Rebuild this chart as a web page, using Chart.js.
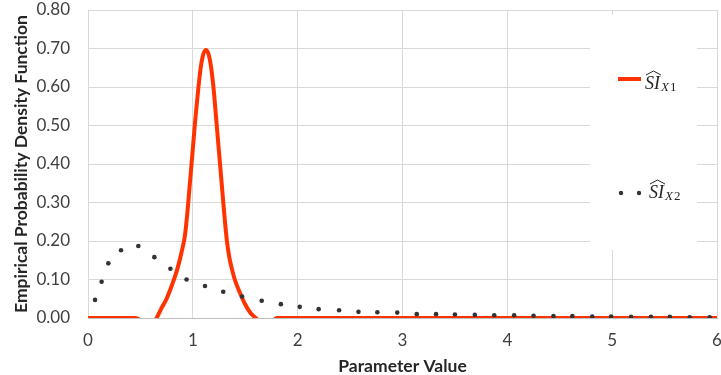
<!DOCTYPE html>
<html>
<head>
<meta charset="utf-8">
<script src="https://cdn.jsdelivr.net/npm/chart.js@4/dist/chart.umd.min.js"></script>
<style>
  html, body { margin: 0; padding: 0; background: #ffffff; }
  #wrap { width: 721px; height: 375px; }
</style>
</head>
<body>
<div id="wrap"><canvas id="chart" width="721" height="375"></canvas></div>
<script>
// SI_X1 curve (red line)
var x1Values = [0, 0.2, 0.4, 0.45, 0.5, 0.55, 0.6, 0.65, 0.7, 0.75, 0.8, 0.85, 0.9, 0.925, 0.95, 0.975,
  1.0, 1.025, 1.05, 1.075, 1.1, 1.125, 1.15, 1.175, 1.2, 1.225, 1.25, 1.275, 1.3, 1.325, 1.35, 1.375,
  1.4, 1.45, 1.5, 1.55, 1.6, 1.65, 1.7, 1.75, 1.8, 1.85, 2, 3, 4, 5, 6];
var y1Values = [0, 0, 0, 0, -0.006, -0.02, -0.02, -0.002, 0.025, 0.05, 0.085, 0.125, 0.18, 0.215, 0.28, 0.36,
  0.44, 0.52, 0.59, 0.65, 0.685, 0.696, 0.685, 0.65, 0.59, 0.51, 0.43, 0.35, 0.27, 0.2, 0.155, 0.125,
  0.1, 0.065, 0.035, 0.013, 0, -0.012, -0.018, -0.012, 0, 0, 0, 0, 0, 0, 0];

// SI_X2 points (dots)
var x2Values = [0.067, 0.13, 0.194, 0.315, 0.48, 0.633, 0.786, 0.94, 1.116, 1.29, 1.47, 1.657, 1.84, 2.02,
  2.20, 2.395, 2.58, 2.76, 2.95, 3.136, 3.32, 3.50, 3.69, 3.875, 4.065, 4.25, 4.44, 4.62, 4.81, 4.99,
  5.18, 5.37, 5.55, 5.74, 5.93];
var y2Values = [0.047, 0.094, 0.142, 0.176, 0.187, 0.158, 0.128, 0.100, 0.083, 0.068, 0.056, 0.045, 0.036,
  0.029, 0.023, 0.020, 0.016, 0.015, 0.014, 0.010, 0.010, 0.009, 0.008, 0.007, 0.007, 0.006, 0.005,
  0.005, 0.004, 0.004, 0.003, 0.003, 0.003, 0.002, 0.002];

var seriesNames = [{ base: 'SI', sub: 'X', num: '1' }, { base: 'SI', sub: 'X', num: '2' }];
var xTitle = 'Parameter Value';
var yTitle = 'Empirical Probability Density Function';

function toPoints(xs, ys) {
  var pts = [];
  for (var i = 0; i < xs.length; i++) {
    pts.push({ x: xs[i], y: ys[i] });
  }
  return pts;
}

function drawName(ctx, x, y, name) {
  ctx.fillStyle = '#262626';
  ctx.textBaseline = 'alphabetic';
  ctx.textAlign = 'left';
  ctx.font = 'italic 18px "Liberation Serif"';
  ctx.fillText(name.base, x, y);
  var w = ctx.measureText(name.base).width;
  // hat over the letters
  ctx.strokeStyle = '#262626';
  ctx.lineWidth = 1;
  ctx.beginPath();
  ctx.moveTo(x + 1, y - 14);
  ctx.lineTo(x + w / 2 + 1, y - 18);
  ctx.lineTo(x + w + 1, y - 14);
  ctx.stroke();
  ctx.font = 'italic 13px "Liberation Serif"';
  ctx.fillText(name.sub, x + w + 1, y + 2);
  ctx.font = '13px "Liberation Serif"';
  ctx.fillText(name.num, x + w + 10, y + 2);
}

// white legend box on the right, as in the original
var legendBox = {
  id: 'legendBox',
  afterDatasetsDraw: function(chart) {
    var ctx = chart.ctx;
    ctx.save();
    ctx.fillStyle = '#ffffff';
    ctx.fillRect(590, 15, 107, 235);

    // entry 1: red line
    ctx.strokeStyle = '#ff3300';
    ctx.lineWidth = 4;
    ctx.beginPath();
    ctx.moveTo(618, 79);
    ctx.lineTo(641, 79);
    ctx.stroke();
    drawName(ctx, 645, 89, seriesNames[0]);

    // entry 2: dots
    ctx.fillStyle = '#333333';
    ctx.beginPath();
    ctx.arc(621, 193, 2.2, 0, Math.PI * 2);
    ctx.arc(639, 193, 2.2, 0, Math.PI * 2);
    ctx.fill();
    drawName(ctx, 649, 198, seriesNames[1]);
    ctx.restore();
  }
};

function drawGraph() {
  var ctx = document.getElementById('chart');
  var myChart = new Chart(ctx, {
    type: 'scatter',
    data: {
      datasets: [
        {
          data: toPoints(x2Values, y2Values),
          showLine: false,
          pointRadius: 2.3,
          pointBackgroundColor: '#333333',
          pointBorderWidth: 0,
          order: 0
        },
        {
          data: toPoints(x1Values, y1Values),
          showLine: true,
          borderColor: '#ff3300',
          borderWidth: 4,
          pointRadius: 0,
          cubicInterpolationMode: 'monotone',
          order: 1
        }
      ]
    },
    options: {
      responsive: false,
      animation: false,
      layout: { padding: 0 },
      plugins: {
        legend: { display: false },
        tooltip: { enabled: false }
      },
      scales: {
        x: {
          type: 'linear',
          min: 0,
          max: 6,
          ticks: {
            stepSize: 1,
            padding: 12,
            color: '#404040',
            font: { family: 'Lato', size: 17 }
          },
          grid: { color: '#d9d9d9', drawTicks: false },
          border: { color: '#bfbfbf' },
          title: {
            display: true,
            text: xTitle,
            color: '#262626',
            padding: { top: 0, bottom: 0 },
            font: { family: 'Lato', size: 17.5, weight: 'bold', lineHeight: 1.0 }
          },
          afterFit: function(scale) {
            scale.height = 57;
            scale.paddingLeft = 0;
            scale.paddingRight = 4;
          }
        },
        y: {
          min: 0,
          max: 0.8,
          ticks: {
            stepSize: 0.1,
            padding: 18,
            color: '#404040',
            font: { family: 'Lato', size: 17 },
            callback: function(v) { return v.toFixed(2); }
          },
          grid: { color: '#d9d9d9', drawTicks: false },
          border: { color: '#d9d9d9' },
          title: {
            display: true,
            text: yTitle,
            color: '#262626',
            padding: { top: 11, bottom: 0 },
            font: { family: 'Lato', size: 17.5, weight: 'bold', lineHeight: 1.2 }
          },
          afterFit: function(scale) {
            scale.width = 88;
            scale.paddingTop = 10;
            scale.paddingBottom = 0;
          }
        }
      }
    },
    plugins: [legendBox]
  });
  return myChart;
}

drawGraph();
</script>
</body>
</html>
